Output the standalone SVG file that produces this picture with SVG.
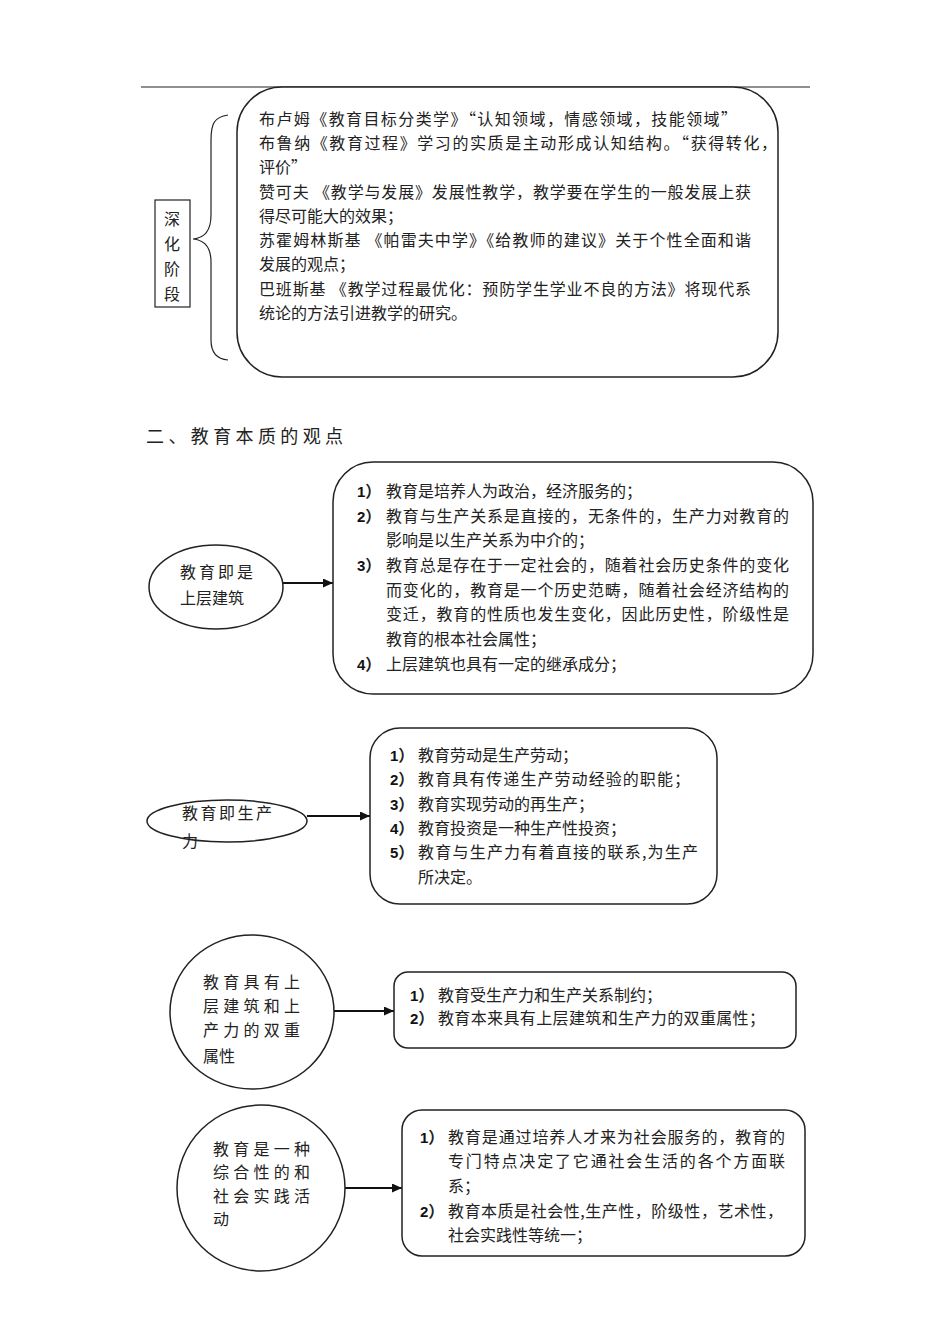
<svg xmlns="http://www.w3.org/2000/svg" width="950" height="1344" viewBox="0 0 950 1344">
<style>
.t{font-family:"Noto Sans CJK SC","Noto Sans",sans-serif;font-size:16px;fill:#222}
.n{font-family:"Liberation Sans","Noto Sans CJK SC",sans-serif;font-size:15px;font-weight:bold;fill:#111}
.e{font-family:"Noto Sans CJK SC",sans-serif;font-size:16px;fill:#222}
.b{fill:#fff;stroke:#222;stroke-width:1.5}
.c{stroke:#111;stroke-width:1.8;fill:none}
</style>
<defs>
<marker id="ah" viewBox="0 0 10 10" refX="10" refY="5" markerWidth="10" markerHeight="9" orient="auto" markerUnits="userSpaceOnUse" preserveAspectRatio="none"><path d="M0,0L10,5L0,10z" fill="#111"/></marker>
</defs>
<rect width="950" height="1344" fill="#fff"/>
<line x1="141" y1="87" x2="810" y2="87" stroke="#222" stroke-width="1.2"/>

<g id="stage">
<rect x="155" y="200" width="35" height="107" fill="#fff" stroke="#222" stroke-width="1.2"/>
<text class="t" x="164" y="225">深</text>
<text class="t" x="164" y="250">化</text>
<text class="t" x="164" y="275">阶</text>
<text class="t" x="164" y="300">段</text>
</g>
<g id="brace">
<path d="M228,115 C214,117 211,124 211,140 L211,215 C211,232 204,238 193,239 C204,240 211,246 211,262 L211,340 C211,352 216,359 228,360" fill="none" stroke="#222" stroke-width="1.2"/>
</g>
<g id="top-box">
<rect class="b" x="237" y="87" width="541" height="290" rx="45" ry="45"/>
<text class="t" x="259" y="125" textLength="478">布卢姆《教育目标分类学》“认知领域，情感领域，技能领域”</text>
<text class="t" x="259" y="149" textLength="518">布鲁纳《教育过程》学习的实质是主动形成认知结构。“获得转化，</text>
<text class="t" x="259" y="173">评价”</text>
<text class="t" x="259" y="198" textLength="492">赞可夫 《教学与发展》发展性教学，教学要在学生的一般发展上获</text>
<text class="t" x="259" y="222">得尽可能大的效果；</text>
<text class="t" x="259" y="246" textLength="492">苏霍姆林斯基 《帕雷夫中学》《给教师的建议》关于个性全面和谐</text>
<text class="t" x="259" y="270">发展的观点；</text>
<text class="t" x="259" y="295" textLength="492">巴班斯基 《教学过程最优化：预防学生学业不良的方法》将现代系</text>
<text class="t" x="259" y="319">统论的方法引进教学的研究。</text>
</g>

<text class="t" x="146" y="443" style="font-size:18px" textLength="197">二、教育本质的观点</text>

<g id="connectors">
<line class="c" x1="283" y1="583" x2="333" y2="583" marker-end="url(#ah)"/>
<line class="c" x1="307" y1="816" x2="370" y2="816" marker-end="url(#ah)"/>
<line class="c" x1="334" y1="1011" x2="394" y2="1011" marker-end="url(#ah)"/>
<line class="c" x1="345" y1="1188" x2="402" y2="1188" marker-end="url(#ah)"/>
</g>

<g id="n1">
<ellipse class="b" cx="216" cy="587" rx="67" ry="42"/>
<text class="e" x="180" y="578" textLength="73">教育即是</text>
<text class="e" x="180" y="604">上层建筑</text>
</g>
<g id="b1">
<rect class="b" x="333" y="462" width="480" height="232" rx="40" ry="40"/>
<text class="n" x="357" y="497">1<tspan class="t">）</tspan></text>
<text class="t" x="386" y="497">教育是培养人为政治，经济服务的；</text>
<text class="n" x="357" y="522">2<tspan class="t">）</tspan></text>
<text class="t" x="386" y="522" textLength="403">教育与生产关系是直接的，无条件的，生产力对教育的</text>
<text class="t" x="386" y="546">影响是以生产关系为中介的；</text>
<text class="n" x="357" y="571">3<tspan class="t">）</tspan></text>
<text class="t" x="386" y="571" textLength="403">教育总是存在于一定社会的，随着社会历史条件的变化</text>
<text class="t" x="386" y="596" textLength="403">而变化的，教育是一个历史范畴，随着社会经济结构的</text>
<text class="t" x="386" y="620" textLength="403">变迁，教育的性质也发生变化，因此历史性，阶级性是</text>
<text class="t" x="386" y="645">教育的根本社会属性；</text>
<text class="n" x="357" y="670">4<tspan class="t">）</tspan></text>
<text class="t" x="386" y="670">上层建筑也具有一定的继承成分；</text>
</g>

<g id="n2">
<ellipse class="b" cx="227" cy="821" rx="80" ry="21"/>
<text class="e" x="182" y="819" textLength="90">教育即生产</text>
<text class="e" x="182" y="847">力</text>
</g>
<g id="b2">
<rect class="b" x="370" y="728" width="347" height="176" rx="30" ry="30"/>
<text class="n" x="390" y="761">1<tspan class="t">）</tspan></text>
<text class="t" x="418" y="761">教育劳动是生产劳动；</text>
<text class="n" x="390" y="785">2<tspan class="t">）</tspan></text>
<text class="t" x="418" y="785" textLength="272">教育具有传递生产劳动经验的职能；</text>
<text class="n" x="390" y="810">3<tspan class="t">）</tspan></text>
<text class="t" x="418" y="810">教育实现劳动的再生产；</text>
<text class="n" x="390" y="834">4<tspan class="t">）</tspan></text>
<text class="t" x="418" y="834">教育投资是一种生产性投资；</text>
<text class="n" x="390" y="858">5<tspan class="t">）</tspan></text>
<text class="t" x="418" y="858" textLength="280">教育与生产力有着直接的联系,为生产</text>
<text class="t" x="418" y="883">所决定。</text>
</g>

<g id="n3">
<ellipse class="b" cx="252" cy="1012" rx="82" ry="77"/>
<text class="e" x="203" y="988" textLength="97">教育具有上</text>
<text class="e" x="203" y="1012" textLength="97">层建筑和上</text>
<text class="e" x="203" y="1036" textLength="97">产力的双重</text>
<text class="e" x="203" y="1062">属性</text>
</g>
<g id="b3">
<rect class="b" x="394" y="972" width="402" height="76" rx="14" ry="14"/>
<text class="n" x="410" y="1001">1<tspan class="t">）</tspan></text>
<text class="t" x="438" y="1001">教育受生产力和生产关系制约；</text>
<text class="n" x="410" y="1024">2<tspan class="t">）</tspan></text>
<text class="t" x="438" y="1024" textLength="327">教育本来具有上层建筑和生产力的双重属性；</text>
</g>

<g id="n4">
<ellipse class="b" cx="261" cy="1188" rx="84" ry="83"/>
<text class="e" x="213" y="1155" textLength="97">教育是一种</text>
<text class="e" x="213" y="1178" textLength="97">综合性的和</text>
<text class="e" x="213" y="1202" textLength="97">社会实践活</text>
<text class="e" x="213" y="1225">动</text>
</g>
<g id="b4">
<rect class="b" x="402" y="1110" width="403" height="146" rx="20" ry="20"/>
<text class="n" x="420" y="1143">1<tspan class="t">）</tspan></text>
<text class="t" x="448" y="1143" textLength="337">教育是通过培养人才来为社会服务的，教育的</text>
<text class="t" x="448" y="1167" textLength="337">专门特点决定了它通社会生活的各个方面联</text>
<text class="t" x="448" y="1192">系；</text>
<text class="n" x="420" y="1217">2<tspan class="t">）</tspan></text>
<text class="t" x="448" y="1217" textLength="335">教育本质是社会性,生产性，阶级性，艺术性，</text>
<text class="t" x="448" y="1241">社会实践性等统一；</text>
</g>
</svg>
